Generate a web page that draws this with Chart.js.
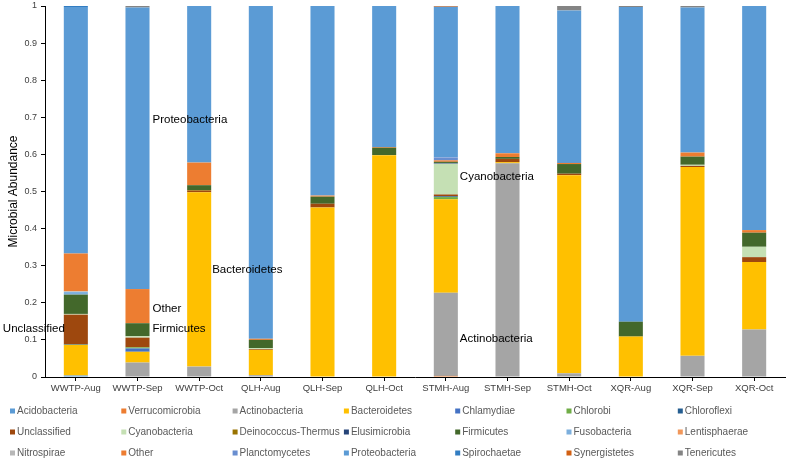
<!DOCTYPE html>
<html>
<head>
<meta charset="utf-8">
<script src="https://cdn.jsdelivr.net/npm/chart.js@4/dist/chart.umd.min.js"></script>
<style>
  body { margin: 0; background: #fff; }
</style>
</head>
<body>
<canvas id="abundanceChart" width="787" height="460"></canvas>
<script>
var sites = ['WWTP-Aug', 'WWTP-Sep', 'WWTP-Oct', 'QLH-Aug', 'QLH-Sep', 'QLH-Oct',
  'STMH-Aug', 'STMH-Sep', 'STMH-Oct', 'XQR-Aug', 'XQR-Sep', 'XQR-Oct'];

var phyla = ['Acidobacteria', 'Verrucomicrobia', 'Actinobacteria', 'Bacteroidetes', 'Chlamydiae',
  'Chlorobi', 'Chloroflexi', 'Unclassified', 'Cyanobacteria', 'Deinococcus-Thermus', 'Elusimicrobia',
  'Firmicutes', 'Fusobacteria', 'Lentisphaerae', 'Nitrospirae', 'Other', 'Planctomycetes',
  'Proteobacteria', 'Spirochaetae', 'Synergistetes', 'Tenericutes'];

var acidobacteria   = [0.004, 0, 0, 0, 0, 0, 0, 0, 0, 0, 0, 0];
var verrucomicrobia = [0, 0, 0, 0, 0, 0, 0.003, 0, 0, 0, 0, 0];
var actinobacteria  = [0, 0.039, 0.028, 0.005, 0, 0, 0.224, 0.576, 0.010, 0, 0.057, 0.128];
var bacteroidetes   = [0.083, 0.029, 0.470, 0.068, 0.457, 0.598, 0.252, 0.003, 0.534, 0.109, 0.509, 0.182];
var chlamydiae      = [0, 0.009, 0, 0, 0, 0, 0, 0, 0, 0, 0, 0];
var chlorobi        = [0, 0.003, 0, 0, 0, 0, 0.006, 0, 0, 0, 0, 0];
var chloroflexi     = [0.002, 0, 0, 0, 0, 0, 0.002, 0, 0, 0, 0, 0];
var unclassified    = [0.079, 0.026, 0.004, 0.002, 0.010, 0, 0.005, 0.009, 0.004, 0, 0.003, 0.013];
var cyanobacteria   = [0.002, 0.004, 0, 0.003, 0, 0, 0.083, 0, 0, 0, 0.003, 0.028];
var deinococcus     = [0, 0, 0.002, 0, 0, 0, 0, 0, 0, 0, 0, 0];
var elusimicrobia   = [0, 0, 0, 0, 0, 0, 0.002, 0, 0, 0, 0, 0];
var firmicutes      = [0.052, 0.035, 0.013, 0.022, 0.019, 0.020, 0.003, 0.005, 0.026, 0.040, 0.022, 0.038];
var fusobacteria    = [0.007, 0, 0, 0, 0, 0, 0, 0, 0, 0, 0, 0];
var lentisphaerae   = [0, 0, 0, 0, 0, 0, 0, 0, 0, 0, 0, 0];
var nitrospirae     = [0.002, 0, 0, 0, 0, 0, 0, 0, 0, 0, 0, 0];
var other           = [0.102, 0.092, 0.061, 0.003, 0.003, 0.002, 0.004, 0.010, 0.003, 0, 0.011, 0.007];
var planctomycetes  = [0, 0, 0, 0, 0, 0, 0.008, 0, 0, 0, 0, 0];
var proteobacteria  = [0.664, 0.759, 0.422, 0.897, 0.511, 0.380, 0.406, 0.397, 0.411, 0.848, 0.391, 0.604];
var spirochaetae    = [0.003, 0, 0, 0, 0, 0, 0, 0, 0, 0, 0, 0];
var synergistetes   = [0, 0, 0, 0, 0, 0, 0.002, 0, 0, 0, 0, 0];
var tenericutes     = [0, 0.004, 0, 0, 0, 0, 0, 0, 0.012, 0.003, 0.004, 0];

var yTicks = [0, 0.1, 0.2, 0.3, 0.4, 0.5, 0.6, 0.7, 0.8, 0.9, 1];

var seriesValues = [acidobacteria, verrucomicrobia, actinobacteria, bacteroidetes, chlamydiae,
  chlorobi, chloroflexi, unclassified, cyanobacteria, deinococcus, elusimicrobia,
  firmicutes, fusobacteria, lentisphaerae, nitrospirae, other, planctomycetes,
  proteobacteria, spirochaetae, synergistetes, tenericutes];

var colors = ['#5B9BD5', '#ED7D31', '#A5A5A5', '#FFC000', '#4472C4', '#70AD47', '#255E91',
  '#9E480E', '#C5E0B4', '#997300', '#264478', '#43682B', '#7CAFDD', '#F1975A',
  '#B7B7B7', '#ED7D31', '#698ED0', '#5B9BD5', '#327DC2', '#D26012', '#848484'];

// labels written on the chart: [text, category index, value, x offset, align]
var notes = [
  ['Proteobacteria', 1, 0.692, 15, 'left'],
  ['Bacteroidetes', 2, 0.289, 13, 'left'],
  ['Other', 1, 0.184, 15, 'left'],
  ['Firmicutes', 1, 0.130, 15, 'left'],
  ['Unclassified', 0, 0.130, -11, 'right'],
  ['Cyanobacteria', 6, 0.539, 14, 'left'],
  ['Actinobacteria', 6, 0.103, 14, 'left']
];

var font = '"Liberation Sans", Arial, sans-serif';

var datasets = phyla.map(function (name, i) {
  return {
    label: name,
    data: seriesValues[i],
    backgroundColor: colors[i],
    borderWidth: 0,
    barPercentage: 0.39,
    categoryPercentage: 1
  };
});

var notesPlugin = {
  id: 'notes',
  afterDatasetsDraw: function (chart) {
    var ctx = chart.ctx;
    var xs = chart.scales.x, ys = chart.scales.y;
    ctx.save();
    ctx.font = '11.5px ' + font;
    ctx.fillStyle = '#000';
    ctx.textBaseline = 'middle';
    notes.forEach(function (n) {
      ctx.textAlign = n[4];
      ctx.fillText(n[0], xs.getPixelForValue(n[1]) + n[3], ys.getPixelForValue(n[2]));
    });
    ctx.restore();
  }
};

var gridLegend = {
  id: 'gridLegend',
  afterDraw: function (chart) {
    var ctx = chart.ctx;
    ctx.save();
    ctx.font = '10px ' + font;
    ctx.textBaseline = 'middle';
    ctx.textAlign = 'left';
    chart.data.datasets.forEach(function (ds, i) {
      var x = 10 + (i % 7) * 111.3;
      var y = 411 + Math.floor(i / 7) * 21;
      ctx.fillStyle = ds.backgroundColor;
      ctx.fillRect(x, y - 2.5, 5, 5);
      ctx.fillStyle = '#595959';
      ctx.fillText(ds.label, x + 7, y);
    });
    ctx.restore();
  }
};

var config = {
  type: 'bar',
  data: { labels: sites, datasets: datasets },
  options: {
    responsive: false,
    animation: false,
    layout: { padding: { left: 0, right: 2, top: 0, bottom: 66 } },
    plugins: {
      legend: { display: false },
      tooltip: { enabled: false }
    },
    scales: {
      x: {
        stacked: true,
        afterFit: function (scale) { scale.height = 17; },
        grid: { display: true, drawOnChartArea: false, offset: false, tickLength: 4, color: '#000' },
        border: { color: '#000' },
        ticks: { color: '#404040', font: { family: font, size: 9.5 }, padding: 2, maxRotation: 0, autoSkip: false }
      },
      y: {
        stacked: true,
        min: 0,
        max: 1,
        afterFit: function (scale) {
          scale.width = 45;
          scale.paddingTop = 6;
        },
        afterBuildTicks: function (scale) {
          scale.ticks = yTicks.map(function (v) { return { value: v }; });
        },
        grid: { display: true, drawOnChartArea: false, tickLength: 4, color: '#000' },
        border: { color: '#000' },
        ticks: {
          color: '#404040',
          font: { family: font, size: 9 },
          padding: 4,
          callback: function (v) { return String(Number(v.toFixed(1))); }
        },
        title: {
          display: true,
          text: 'Microbial Abundance',
          color: '#000',
          font: { family: font, size: 12 },
          padding: { top: 6, bottom: 0 }
        }
      }
    }
  },
  plugins: [notesPlugin, gridLegend]
};

var abundanceChart = new Chart(document.getElementById('abundanceChart'), config);
</script>
</body>
</html>
